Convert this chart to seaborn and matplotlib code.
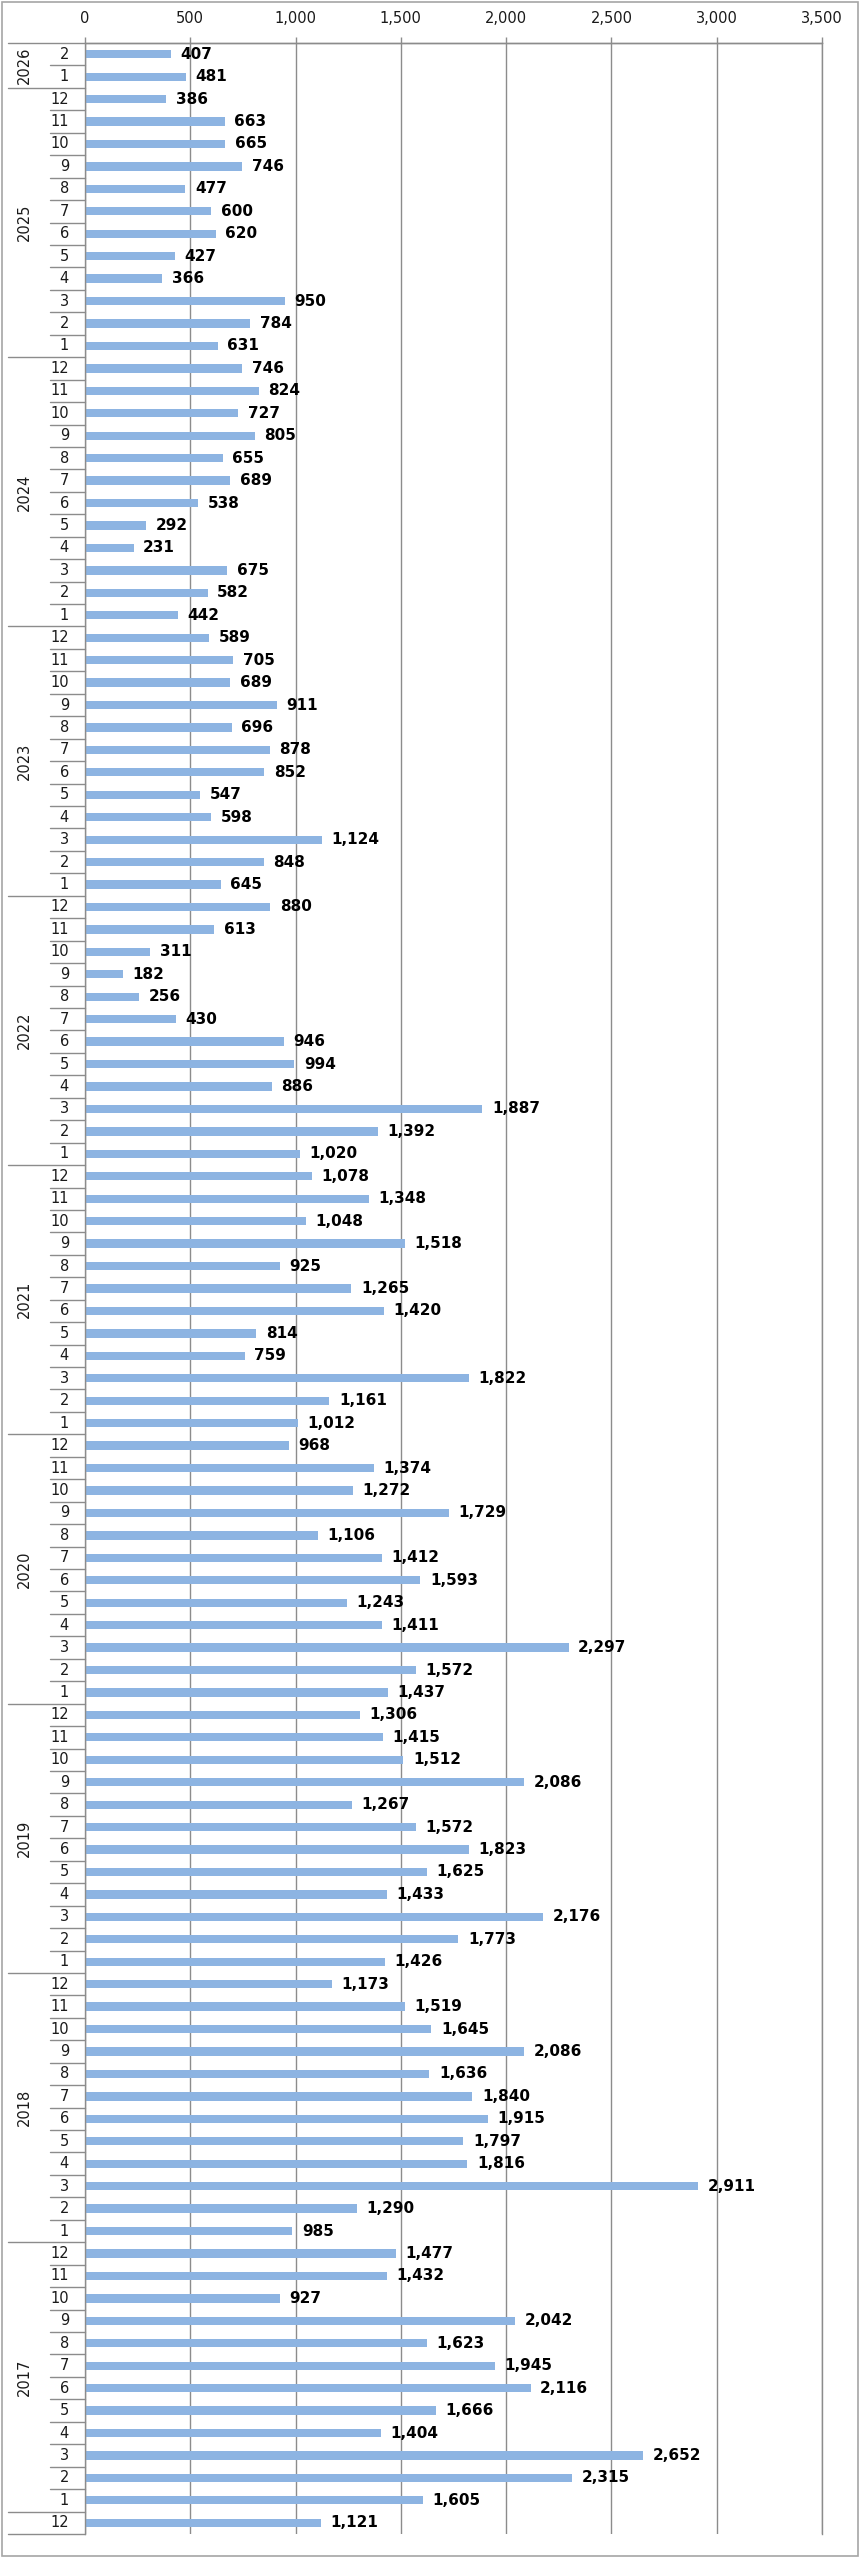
import pandas as pd
import numpy as np
import matplotlib
matplotlib.use("Agg")
import matplotlib.pyplot as plt
import matplotlib.transforms as mtransforms
from matplotlib.patches import Rectangle
from matplotlib.ticker import FuncFormatter
import seaborn as sns

# monthly counts, newest first (as in the chart, top to bottom)
months_2026 = [2, 1]
counts_2026 = [407, 481]
months_full = [12, 11, 10, 9, 8, 7, 6, 5, 4, 3, 2, 1]
counts_2025 = [386, 663, 665, 746, 477, 600, 620, 427, 366, 950, 784, 631]
counts_2024 = [746, 824, 727, 805, 655, 689, 538, 292, 231, 675, 582, 442]
counts_2023 = [589, 705, 689, 911, 696, 878, 852, 547, 598, 1124, 848, 645]
counts_2022 = [880, 613, 311, 182, 256, 430, 946, 994, 886, 1887, 1392, 1020]
counts_2021 = [1078, 1348, 1048, 1518, 925, 1265, 1420, 814, 759, 1822, 1161, 1012]
counts_2020 = [968, 1374, 1272, 1729, 1106, 1412, 1593, 1243, 1411, 2297, 1572, 1437]
counts_2019 = [1306, 1415, 1512, 2086, 1267, 1572, 1823, 1625, 1433, 2176, 1773, 1426]
counts_2018 = [1173, 1519, 1645, 2086, 1636, 1840, 1915, 1797, 1816, 2911, 1290, 985]
counts_2017 = [1477, 1432, 927, 2042, 1623, 1945, 2116, 1666, 1404, 2652, 2315, 1605]
months_2016 = [12]
counts_2016 = [1121]

groups = [
    ("2026", months_2026, counts_2026),
    ("2025", months_full, counts_2025),
    ("2024", months_full, counts_2024),
    ("2023", months_full, counts_2023),
    ("2022", months_full, counts_2022),
    ("2021", months_full, counts_2021),
    ("2020", months_full, counts_2020),
    ("2019", months_full, counts_2019),
    ("2018", months_full, counts_2018),
    ("2017", months_full, counts_2017),
    ("", months_2016, counts_2016),  # year label cut off in the original
]

rows = []
for yr, ms, cs in groups:
    for m, c in zip(ms, cs):
        rows.append({"year": yr, "month": m, "count": c})
df = pd.DataFrame(rows)
df["row"] = [f"{i}" for i in range(len(df))]
n = len(df)

BAR = "#8DB4E2"
GRID = "#8c8c8c"
TXT = "#1a1a1a"

sns.set_style("white")
plt.rcParams["font.family"] = ["DejaVu Sans"]

W, H = 861, 2560
fig = plt.figure(figsize=(W / 100, H / 100), dpi=100)
x0, x1, ytop, ybot = 85, 822, 43, 2534
ax = fig.add_axes([x0 / W, 1 - ybot / H, (x1 - x0) / W, (ybot - ytop) / H])

sns.barplot(data=df, x="count", y="row", orient="h", color=BAR,
            saturation=1, width=0.37, ax=ax, edgecolor="none")

ax.set_xlim(0, 3500)
ax.set_ylim(n - 0.5, -0.5)
ax.set_xticks(np.arange(0, 3501, 500))
ax.xaxis.set_major_formatter(FuncFormatter(lambda v, p: f"{int(v):,}"))
ax.xaxis.tick_top()
ax.tick_params(axis="x", direction="out", length=4, width=1, color=GRID,
               labelsize=10.5, pad=8, labelcolor=TXT)
ax.tick_params(axis="y", left=False, labelleft=False)
ax.set_xlabel("")
ax.set_ylabel("")
ax.xaxis.grid(True, color=GRID, linewidth=1)
ax.set_axisbelow(True)
for side in ("top", "left", "right"):
    ax.spines[side].set_color(GRID)
    ax.spines[side].set_linewidth(1)
ax.spines["bottom"].set_visible(False)

# value labels
for i, v in enumerate(df["count"]):
    ax.text(v + 45, i, f"{v:,}", va="center", ha="left",
            fontsize=11, fontweight="bold", color="black")

# multi-level category axis drawn by hand
tr = mtransforms.blended_transform_factory(ax.transAxes, ax.transData)
x_year = (8 - x0) / (x1 - x0)
x_month = (50 - x0) / (x1 - x0)
x_mlab = (69 - x0) / (x1 - x0)
x_ylab = (24 - x0) / (x1 - x0)

for i, m in enumerate(df["month"]):
    ax.text(x_mlab, i, str(m), transform=tr, ha="right", va="center",
            fontsize=10.5, color=TXT, clip_on=False)

years = df["year"].tolist()
ax.plot([x_year, 1], [-0.5, -0.5], transform=tr, color=GRID, lw=1, clip_on=False)
ax.plot([x_year, 0], [n - 0.5, n - 0.5], transform=tr, color=GRID, lw=1, clip_on=False)
for i in range(n - 1):
    start = x_year if years[i] != years[i + 1] else x_month
    ax.plot([start, 0], [i + 0.5, i + 0.5], transform=tr, color=GRID, lw=1, clip_on=False)

pos = 0
for yr, ms, cs in groups:
    mid = pos + (len(ms) - 1) / 2
    if yr:
        ax.text(x_ylab, mid, yr, transform=tr, rotation=90, ha="center", va="center",
                fontsize=10.5, color=TXT, clip_on=False)
    pos += len(ms)

# outer chart border
fig.patches.append(Rectangle((2 / W, 4 / H), 856 / W, (H - 6) / H, transform=fig.transFigure,
                             fill=False, edgecolor="#a6a6a6", linewidth=1.2))

fig.savefig("out.png", dpi=100, facecolor="white")
plt.close(fig)
